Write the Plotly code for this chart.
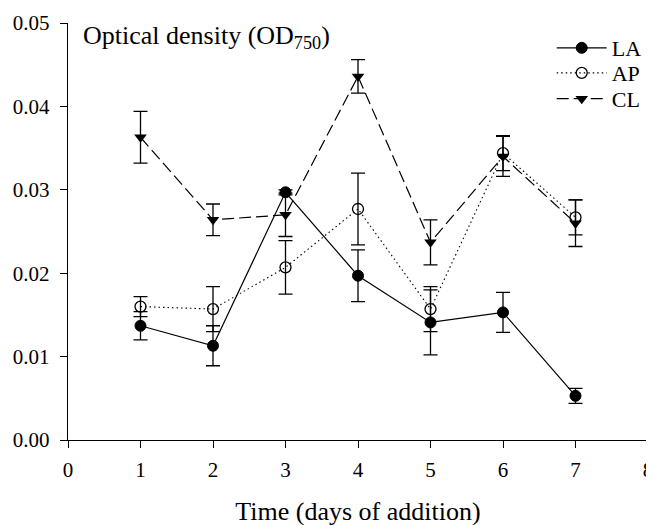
import plotly.graph_objects as go

days = [1, 2, 3, 4, 5, 6, 7]
la = [0.0137, 0.0113, 0.0297, 0.0197, 0.0141, 0.0153, 0.0053]
la_err = [0.0017, 0.0024, 0.0003, 0.0031, 0.0039, 0.0024, 0.0009]
ap = [0.0160, 0.0157, 0.0207, 0.0277, 0.0157, 0.0344, 0.0267]
ap_err = [0.0012, 0.0027, 0.0032, 0.0043, 0.0027, 0.0021, 0.0021]
cl = [0.0363, 0.0264, 0.0270, 0.0436, 0.0237, 0.0340, 0.0260]
cl_err = [0.0031, 0.0019, 0.0026, 0.0020, 0.0027, 0.0024, 0.0028]

x_ticks = [0, 1, 2, 3, 4, 5, 6, 7, 8]
y_ticks = [0.00, 0.01, 0.02, 0.03, 0.04, 0.05]

FONT = "Liberation Serif, Times New Roman, serif"

fig = go.Figure()

def err(vals):
    return dict(type="data", array=vals, visible=True, color="black", thickness=1.3, width=7)

fig.add_trace(go.Scatter(
    x=days, y=la, name="LA", mode="lines+markers", legend="legend",
    line=dict(color="black", width=1.2, dash="solid"),
    marker=dict(symbol="circle", size=11, color="black", line=dict(color="black", width=1)),
    error_y=err(la_err),
))
fig.add_trace(go.Scatter(
    x=days, y=ap, name="AP", mode="lines+markers", legend="legend2",
    line=dict(color="black", width=1.1, dash="1.5px,3px"),
    marker=dict(symbol="circle-open", size=11, color="black", line=dict(color="black", width=1.3)),
    error_y=err(ap_err),
))
fig.add_trace(go.Scatter(
    x=days, y=cl, name="CL", mode="lines+markers", legend="legend3",
    line=dict(color="black", width=1.2, dash="12px,5px"),
    marker=dict(symbol="triangle-down", size=11, color="black"),
    error_y=err(cl_err),
))

def leg(y):
    return dict(
        x=0.834, y=y, xanchor="left", yanchor="middle",
        bgcolor="rgba(0,0,0,0)", font=dict(size=22, family=FONT, color="black"),
        itemwidth=50,
    )

fig.update_layout(
    width=654, height=525,
    margin=dict(l=60, r=14, t=15, b=93, autoexpand=False),
    paper_bgcolor="white", plot_bgcolor="white",
    font=dict(family=FONT, color="black", size=22),
    showlegend=True,
    legend=leg(0.940),
    legend2=leg(0.880),
    legend3=leg(0.818),
    xaxis=dict(
        range=[0, 8], tickvals=x_ticks, ticktext=[str(v) for v in x_ticks],
        automargin=False,
        showgrid=False, zeroline=False, showline=True, linecolor="black", linewidth=1.4,
        ticks="outside", ticklen=7, tickwidth=1.4, tickcolor="black",
        ticklabelstandoff=4,
        tickfont=dict(size=21, family=FONT),
        title=dict(text="Time (days of addition)", font=dict(size=26, family=FONT), standoff=20),
    ),
    yaxis=dict(
        range=[0, 0.05], tickvals=y_ticks, tickformat=".2f",
        automargin=False,
        showgrid=False, zeroline=False, showline=True, linecolor="black", linewidth=1.4,
        ticks="outside", ticklen=7, tickwidth=1.4, tickcolor="black",
        ticklabelstandoff=6,
        tickfont=dict(size=21, family=FONT),
    ),
    annotations=[dict(
        x=0.022, y=1.0, xref="paper", yref="paper", xanchor="left", yanchor="top",
        yshift=4,
        text="Optical density (OD<sub>750</sub>)", showarrow=False,
        font=dict(size=26, family=FONT, color="black"),
    )],
)

fig.write_html("out.html")
